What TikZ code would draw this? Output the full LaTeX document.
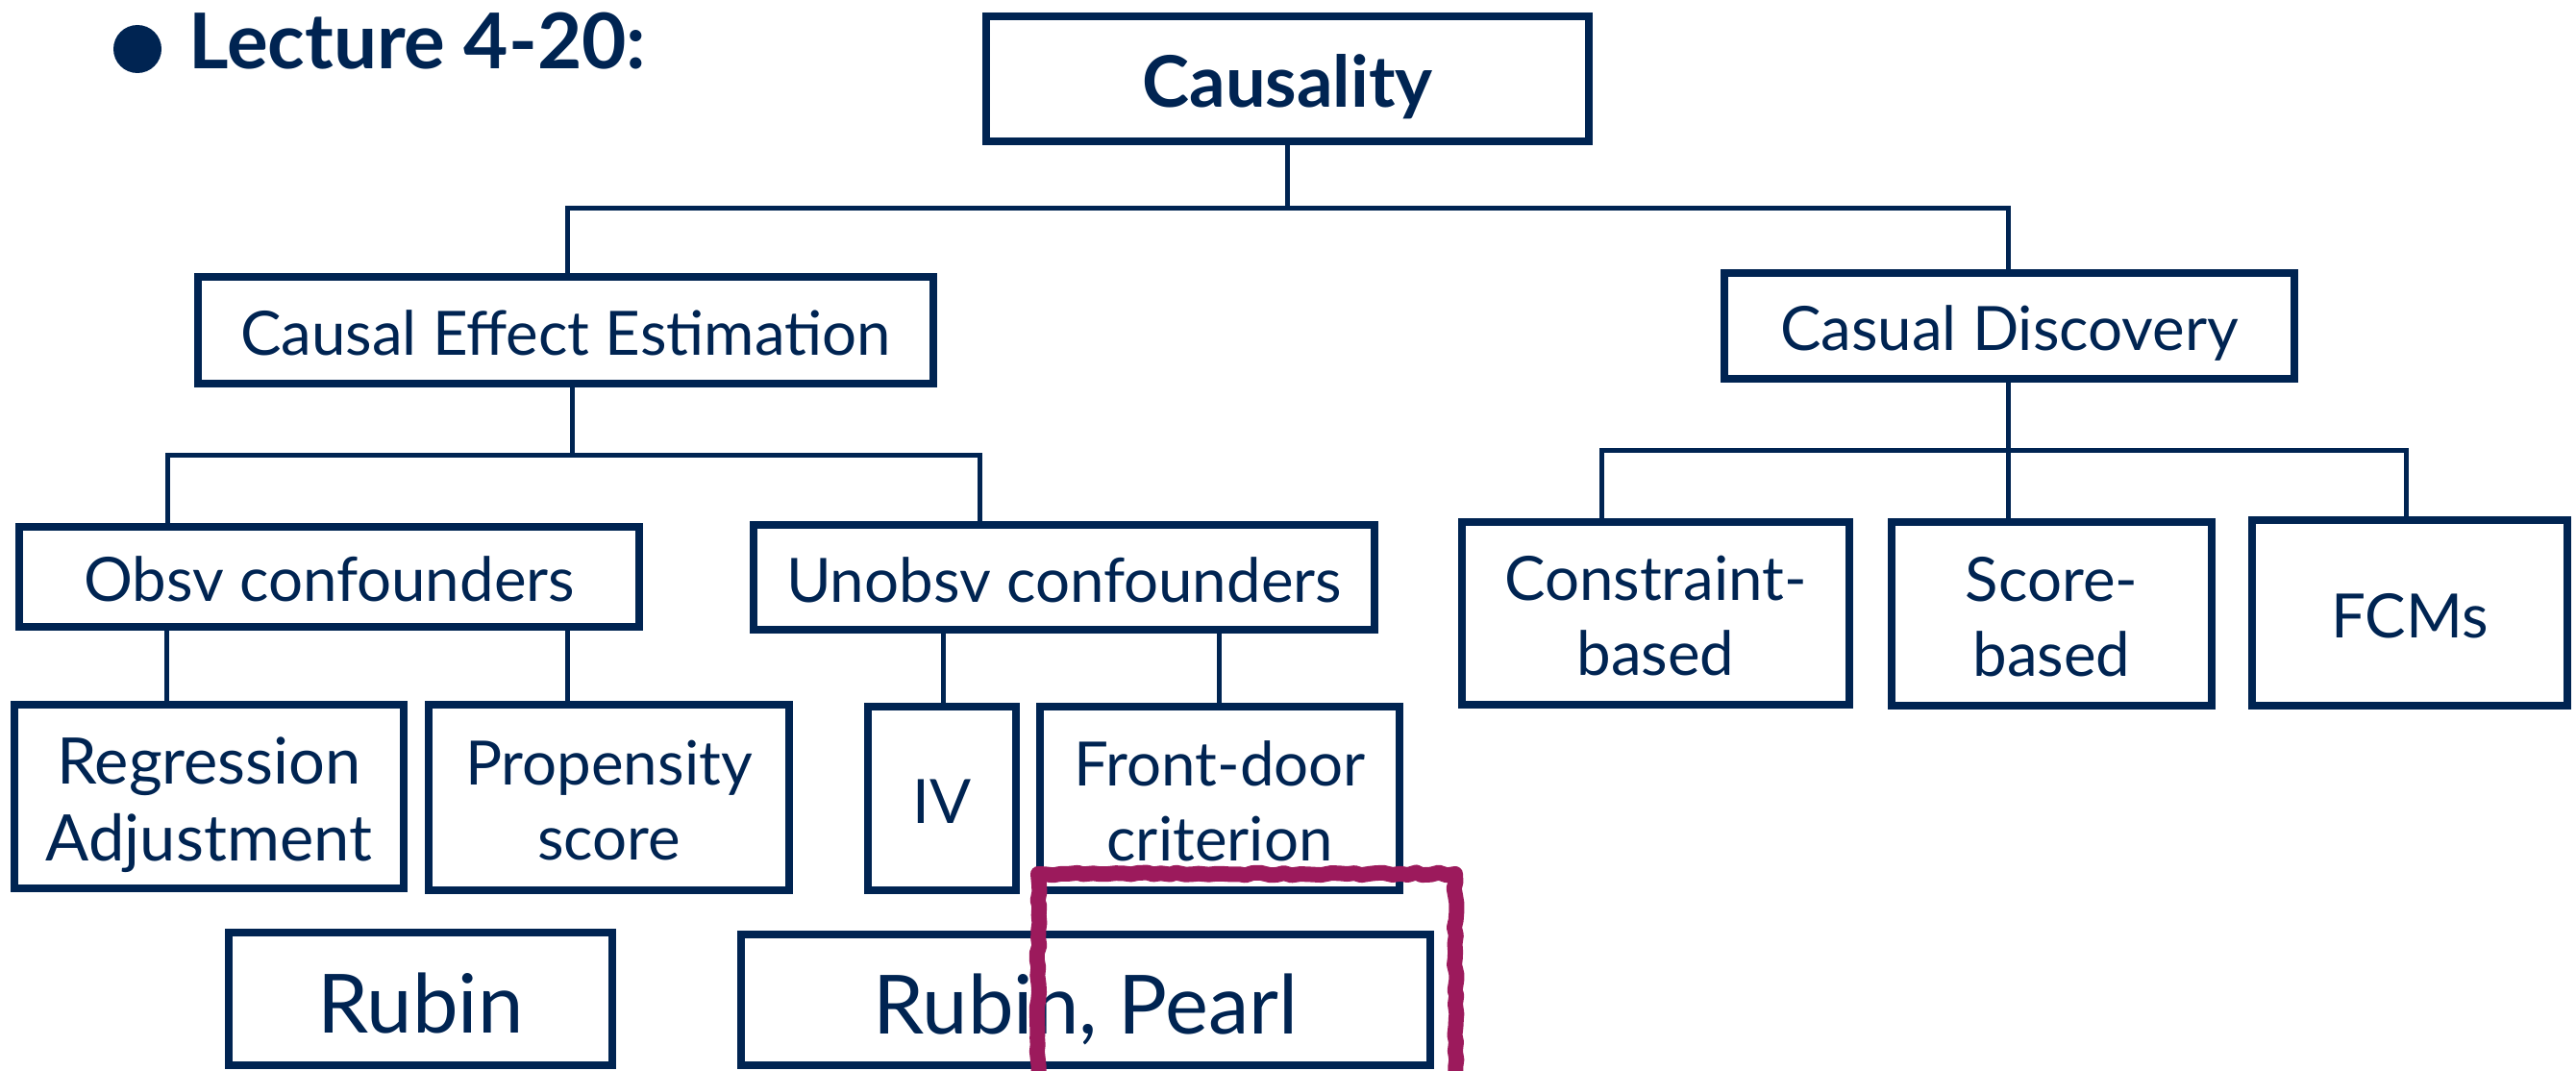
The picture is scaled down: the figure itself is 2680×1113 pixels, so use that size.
\documentclass[tikz,border=0pt]{standalone}
\usepackage{fontspec}
\setmainfont{Lato}
\usetikzlibrary{decorations.pathmorphing}
\definecolor{navy}{HTML}{002452}
\definecolor{marker}{HTML}{9C1A5C}
\tikzset{
  box/.style={draw=navy, line width=4pt, inner sep=0pt, align=center, text=navy,
    font=\fontsize{31.8}{39}\selectfont, text height=25.8pt, text depth=0pt},
  twoline/.style={text height=64.8pt},
  sz/.style 2 args={minimum width=#1*0.5pt, minimum height=#2*0.5pt},
  wire/.style={draw=navy, line width=2.5pt},
  scribble/.style={draw=marker, line width=8pt, line join=round, line cap=round,
    decorate, decoration={random steps, segment length=4pt, amplitude=0.8pt}}
}
\begin{document}
\begin{tikzpicture}[x=0.5pt, y=-0.5pt]
\useasboundingbox (0,0) rectangle (2680,1113);

% heading
\node[circle, fill=navy, minimum size=25pt, inner sep=0pt] (dot) at (143,51) {};
\node[anchor=base west, inner sep=0pt, text=navy,
      font=\bfseries\fontsize{40}{48}\selectfont] (lect) at (196,72) {Lecture 4-20:};

% root
\node[box, sz={627}{130}, font=\bfseries\fontsize{37}{44}\selectfont, text height=30pt]
  (caus) at (1339.5,82) {Causality};

% second level
\node[box, sz={765}{111}] (cee) at (588.5,343.5) {Causal Effect Estimation};
\node[box, sz={593}{110}] (cd) at (2090.5,339) {Casual Discovery};

% third level
\node[box, sz={645}{104}] (obsv) at (342.5,600) {Obsv confounders};
\node[box, sz={646}{109}] (unobsv) at (1107,600.5) {Unobsv confounders};
\node[box, twoline, sz={403}{190}] (con) at (1722.5,638) {Constraint-\\based};
\node[box, twoline, sz={333}{191}] (score) at (2134.5,638.5) {Score-\\based};
\node[box, sz={328}{193}] (fcm) at (2507,637.5) {FCMs};

% fourth level
\node[box, sz={405}{191}, font=\fontsize{33.4}{40}\selectfont, text height=66.9pt]
  (reg) at (217.5,828.5) {Regression\\Adjustment};
\node[box, twoline, sz={375}{193}] (prop) at (633.5,829.5) {Propensity\\score};
\node[box, sz={154}{191}] (iv) at (980,830.5) {IV};
\node[box, twoline, sz={374}{191}] (fd) at (1269,830.5) {Front-door\\criterion};

% attribution
\node[box, sz={399}{138}, font=\fontsize{42.5}{50}\selectfont, text height=35pt]
  (rubin) at (437.5,1039) {Rubin};
\node[box, sz={717}{136}, font=\fontsize{42.5}{50}\selectfont, text height=35pt]
  (rp) at (1129.5,1040) {Rubin, Pearl};

% bus lines
\coordinate (t1) at (590,216);
\coordinate (t2) at (2089,216);
\coordinate (e0) at (595,473);
\coordinate (e1) at (174,473);
\coordinate (e2) at (1019,473);
\coordinate (d0) at (2089,468);
\coordinate (d1) at (1666,468);
\coordinate (d2) at (2503,468);
\coordinate (o1) at (173,0);
\coordinate (o2) at (590,0);
\coordinate (u1) at (981,0);
\coordinate (u2) at (1268,0);

\draw[wire] (caus.south) -- (caus.south |- t1);
\draw[wire] (cee.north -| t1) |- (t2) -- (cd.north -| t2);

\draw[wire] (cee.south -| e0) -- (e0);
\draw[wire] (obsv.north -| e1) |- (e2) -- (unobsv.north -| e2);

\draw[wire] (cd.south -| d0) -- (score.north -| d0);
\draw[wire] (con.north -| d1) |- (d2) -- (fcm.north -| d2);

\draw[wire] (obsv.south -| o1) -- (reg.north -| o1);
\draw[wire] (obsv.south -| o2) -- (prop.north -| o2);
\draw[wire] (unobsv.south -| u1) -- (iv.north -| u1);
\draw[wire] (unobsv.south -| u2) -- (fd.north -| u2);

% hand-drawn highlight
\draw[scribble] (1080,1135) -- (1080,909) -- (1514,909) -- (1514,1135);
\end{tikzpicture}
\end{document}
